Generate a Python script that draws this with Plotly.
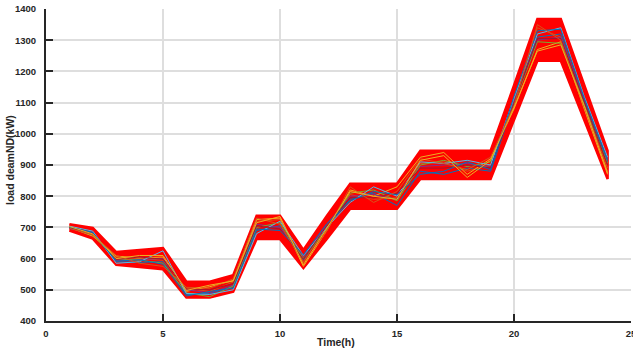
import plotly.graph_objects as go

# Hourly load scenarios over one day
hours = list(range(1, 25))

# Envelope of the full scenario set (kW)
band_upper = [710, 698, 621, 627, 634, 526, 526, 547, 737, 737, 628, 737,
              840, 840, 840, 946, 946, 946, 946, 1155, 1368, 1368, 1155, 946]
band_lower = [690, 664, 580, 573, 566, 475, 475, 494, 663, 663, 570, 663,
              760, 760, 760, 855, 855, 855, 855, 1045, 1234, 1234, 1045, 855]

# Individual highlighted scenarios (kW)
scenario_1 = [698, 682, 590, 588, 590, 485, 488, 510, 690, 705, 595, 700,
              790, 810, 770, 880, 870, 890, 880, 1100, 1310, 1320, 1100, 910]
scenario_2 = [702, 678, 605, 600, 595, 505, 495, 525, 720, 725, 590, 705,
              805, 790, 795, 905, 910, 880, 900, 1110, 1340, 1310, 1090, 890]
scenario_3 = [700, 672, 608, 602, 605, 495, 510, 530, 725, 730, 575, 690,
              820, 800, 830, 925, 940, 870, 920, 1080, 1270, 1295, 1080, 870]
scenario_4 = [696, 685, 595, 598, 600, 500, 490, 515, 710, 700, 605, 710,
              800, 805, 790, 895, 900, 905, 895, 1105, 1300, 1310, 1110, 920]
scenario_5 = [700, 675, 600, 595, 585, 490, 478, 512, 700, 715, 600, 695,
              810, 820, 785, 900, 915, 895, 910, 1095, 1295, 1290, 1095, 905]
scenario_6 = [704, 688, 585, 590, 625, 488, 485, 500, 680, 720, 610, 700,
              780, 830, 800, 910, 905, 915, 900, 1115, 1320, 1340, 1120, 925]
scenario_7 = [699, 680, 598, 605, 598, 502, 500, 520, 705, 695, 598, 705,
              795, 795, 810, 890, 890, 900, 890, 1100, 1305, 1305, 1100, 900]
scenario_8 = [701, 684, 592, 596, 582, 480, 495, 505, 695, 690, 612, 712,
              785, 815, 805, 870, 880, 910, 885, 1120, 1330, 1335, 1115, 915]
scenario_9 = [697, 676, 610, 585, 575, 508, 505, 535, 730, 710, 585, 688,
              830, 780, 815, 920, 905, 885, 925, 1090, 1350, 1300, 1085, 880]
scenario_10 = [703, 679, 600, 610, 610, 498, 515, 528, 715, 735, 580, 698,
               815, 800, 790, 915, 930, 860, 915, 1085, 1265, 1285, 1090, 875]

scenarios = [scenario_1, scenario_2, scenario_3, scenario_4, scenario_5,
             scenario_6, scenario_7, scenario_8, scenario_9, scenario_10]
line_colors = ["#0072BD", "#D95319", "#EDB120", "#7E2F8E", "#77AC30",
               "#4DBEEE", "#A2142F", "#0072BD", "#D95319", "#EDB120"]

x_ticks = [0, 5, 10, 15, 20, 25]
y_ticks = list(range(400, 1401, 100))

fig = go.Figure()

# Red envelope of all scenarios
fig.add_trace(go.Scatter(
    x=hours + hours[::-1],
    y=band_upper + band_lower[::-1],
    fill="toself",
    fillcolor="#FF0000",
    line=dict(color="#FF0000", width=2.5),
    mode="lines",
    hoverinfo="skip",
    showlegend=False,
))

for vals, col in zip(scenarios, line_colors):
    fig.add_trace(go.Scatter(
        x=hours, y=vals, mode="lines",
        line=dict(color=col, width=1),
        showlegend=False,
    ))

tick_font = dict(family="Liberation Sans, Arial", size=9.5, color="#262626", weight="bold")
axis_common = dict(
    showline=True, linecolor="#262626", linewidth=2, mirror=False,
    ticks="inside", ticklen=7, tickwidth=2, tickcolor="#262626",
    showgrid=True, gridcolor="#dedede", gridwidth=1.5,
    zeroline=False, tickfont=tick_font, automargin=False,
)

fig.update_xaxes(range=[0, 25], tickvals=x_ticks, ticklabeloverflow="allow",
                 ticklabelstandoff=3, **axis_common)
fig.update_yaxes(range=[400, 1400], tickvals=y_ticks, ticklabelstandoff=6, **axis_common)

title_font = dict(family="Liberation Sans, Arial", size=10.5, color="#262626", weight="bold")
fig.add_annotation(text="Time(h)", xref="paper", yref="paper", x=0.496, y=0,
                   xanchor="center", yanchor="middle", yshift=-21,
                   showarrow=False, font=title_font)
fig.add_annotation(text="load deamND(kW)", xref="paper", yref="paper", x=0, y=0.516,
                   xanchor="center", yanchor="middle", xshift=-36, textangle=-90,
                   showarrow=False, font=title_font)

fig.update_layout(
    width=633, height=350,
    margin=dict(l=46, r=2, t=9, b=29, autoexpand=False),
    plot_bgcolor="white", paper_bgcolor="white",
)

fig.write_html("out.html")
